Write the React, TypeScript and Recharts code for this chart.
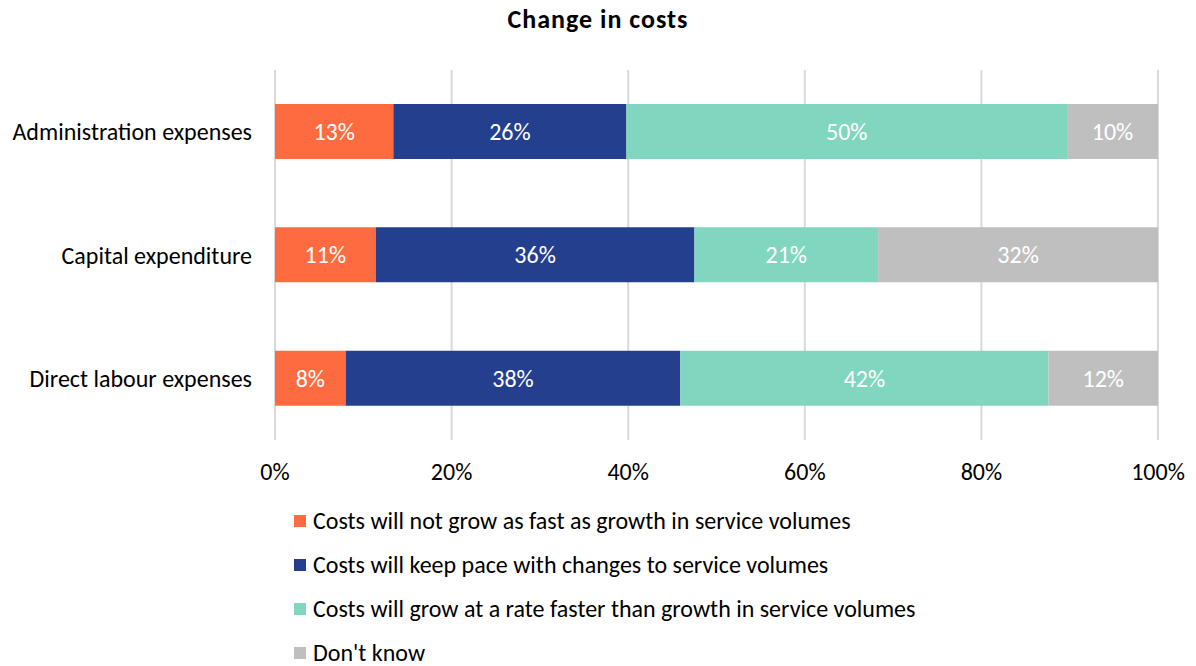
import React from "react";
import { BarChart, Bar, XAxis, YAxis, CartesianGrid, LabelList } from "recharts";

const categories = ["Administration expenses", "Capital expenditure", "Direct labour expenses"];
const notAsFast = [13.4, 11.4, 8.0];
const keepPace = [26.4, 36.1, 37.9];
const faster = [49.9, 20.8, 41.7];
const dontKnow = [10.3, 31.7, 12.4];
const xTicks = [0, 20, 40, 60, 80, 100];

const seriesNames = [
  "Costs will not grow as fast as growth in service volumes",
  "Costs will keep pace with changes to service volumes",
  "Costs will grow at a rate faster than growth in service volumes",
  "Don't know",
];
const colors = ["#FF6B40", "#253F8F", "#80D6BE", "#BFBFBF"];

const data = categories.map((c, i) => ({
  name: c,
  a: notAsFast[i],
  b: keepPace[i],
  c: faster[i],
  d: dontKnow[i],
}));

const FONT = "Carlito, Calibri, Lato, 'Open Sans', sans-serif";
const FS = 24;
const keys = ["a", "b", "c", "d"];

export default function App() {
  return (
    <div style={{ position: "absolute", left: 0, top: 0, width: 1196, height: 666, background: "#fff", overflow: "hidden" }}>
      <div
        style={{
          position: "absolute",
          top: 3,
          left: 0,
          width: 1196,
          textAlign: "center",
          fontFamily: FONT,
          fontWeight: "bold",
          fontSize: 26,
          letterSpacing: 1,
          color: "#000",
        }}
      >
        Change in costs
      </div>
      <BarChart
        width={1196}
        height={666}
        data={data}
        layout="vertical"
        margin={{ top: 70, right: 38, bottom: 186, left: 0 }}
      >
        <CartesianGrid horizontal={false} vertical stroke="#D9D9D9" strokeWidth={2} />
        <XAxis
          type="number"
          domain={[0, 100]}
          ticks={xTicks}
          tickFormatter={(v: number) => `${v}%`}
          axisLine={false}
          tickLine={false}
          tickSize={0}
          tickMargin={23}
          height={40}
          tick={{ fill: "#000", fontSize: FS, fontFamily: FONT }}
          interval={0}
        />
        <YAxis
          type="category"
          dataKey="name"
          width={275}
          axisLine={false}
          tickLine={false}
          tickSize={0}
          tickMargin={23}
          tick={{ fill: "#000", fontSize: FS, fontFamily: FONT }}
        />
        {keys.map((k, i) => (
          <Bar
            key={k}
            dataKey={k}
            name={seriesNames[i]}
            stackId="s"
            fill={colors[i]}
            barSize={55}
            isAnimationActive={false}
          >
            <LabelList
              dataKey={k}
              position="center"
              formatter={(v: number) => `${Math.round(v)}%`}
              style={{ fill: "#fff", fontSize: FS, fontFamily: FONT }}
            />
          </Bar>
        ))}
      </BarChart>
      {seriesNames.map((n, i) => (
        <div
          key={i}
          style={{
            position: "absolute",
            left: 294,
            top: 507 + 44 * i,
            height: 28,
            display: "flex",
            alignItems: "center",
            whiteSpace: "nowrap",
            fontFamily: FONT,
            fontSize: FS,
            lineHeight: "28px",
            color: "#000",
          }}
        >
          <div style={{ width: 12, height: 12, background: colors[i], marginRight: 7, flexShrink: 0 }} />
          <span>{n}</span>
        </div>
      ))}
    </div>
  );
}
